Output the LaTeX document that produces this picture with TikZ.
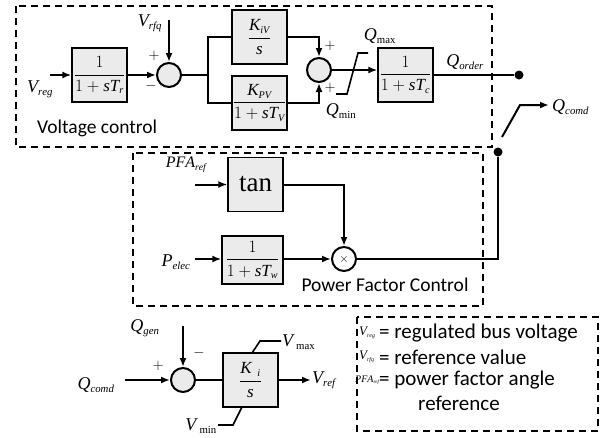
\documentclass[tikz,border=0pt]{standalone}
\usepackage{amsmath}
\usepackage{fontspec}
\setmainfont{Liberation Serif}
\newfontfamily\sansf{Carlito}
\usetikzlibrary{arrows.meta}
\renewcommand\defaultscriptratio{.6}
\renewcommand\defaultscriptscriptratio{.45}
\newcommand\lab[2]{\ensuremath{\mathit{#1}_{\mathit{#2}}}}
\newcommand\labr[2]{\ensuremath{\mathit{#1}_{\mathrm{#2}}}}
\newcommand\labs[2]{\ensuremath{\mathit{#1}_{\scriptscriptstyle\mathit{#2}}}}
\definecolor{boxgray}{RGB}{235,235,235}
\begin{document}
\begin{tikzpicture}[x=1pt,y=-1pt,
  blk/.style={draw, line width=1.3pt, fill=boxgray, minimum width=55pt, minimum height=54pt, inner sep=0pt, font=\fontsize{17}{20}\selectfont},
  sumc/.style={draw, circle, line width=2pt, fill=boxgray, minimum size=24pt, inner sep=0pt},
  sig/.style={line width=2pt},
  arr/.style={line width=2pt, -{Latex[length=9pt,width=7pt]}},
  lim/.style={line width=1.6pt},
  grp/.style={draw, line width=1.5pt, dash pattern=on 7pt off 5pt},
  lbl/.style={font=\fontsize{18}{20}\selectfont, inner sep=0pt},
  lgl/.style={font=\fontsize{13}{14}\selectfont, inner sep=0pt, anchor=west},
  sgn/.style={font=\fontsize{15}{16}\selectfont, inner sep=0pt},
  txt/.style={font=\sansf\fontsize{19.5}{22}\selectfont, inner sep=0pt},
  lgt/.style={font=\sansf\fontsize{21}{24}\selectfont, inner sep=0pt, anchor=west},
  dotn/.style={circle, fill, inner sep=0pt, minimum size=9pt}]
\useasboundingbox (0,0) rectangle (601,437);
\fill[white] (0,0) rectangle (601,437);

% group frames
\draw[grp] (16,6) rectangle (492,147);
\draw[grp] (133,153) rectangle (483,306);
\draw[grp] (357,317) rectangle (598,431);

% ---------- Voltage control ----------
\node[lbl] (vreg) at (40,89) {\lab{V}{reg}};
\coordinate (vregin) at (50,75);
\node[blk] (b1) at (99.5,75) {$\dfrac{1}{1+\mathit{sT}_{\mathit{r}}}$};
\node[sumc] (s1) at (169,75) {};
\node[lbl] (vrfq) at (150,23) {\lab{V}{rfq}};
\coordinate (vrfqin) at (169,20);
\node[sgn] (p1) at (154,56) {$+$};
\node[sgn] (m1) at (151,86) {$-$};
\draw[arr] (vregin) -- (b1.west);
\draw[arr] (b1.east) -- (s1.west);
\draw[arr] (vrfqin) -- (s1.north);

\coordinate (j1) at (208,75);
\node[blk] (bi) at (259.5,37) {$\dfrac{\mathit{K}_{\mathit{iV}}}{\mathit{s}}$};
\node[blk] (bp) at (259.5,103) {$\dfrac{\mathit{K}_{\mathit{PV}}}{1+\mathit{sT}_{\mathit{V}}}$};
\node[sumc] (s2) at (319,70) {};
\draw[sig] (s1.east) -- (j1);
\draw[sig] (bi.west) -- (bi.west -| j1) -- (bp.west -| j1) -- (bp.west);
\draw[arr] (bi.east) -| (s2.north);
\draw[arr] (bp.east) -| (s2.south);
\node[sgn] (p2) at (330,46) {$+$};
\node[sgn] (p3) at (330,88) {$+$};

\node[blk] (bc) at (405.5,75) {$\dfrac{1}{1+\mathit{sT}_{\mathit{c}}}$};
\draw[arr] (s2.east) -- (s2.east -| bc.west);
\draw[lim] (336,94) -- (347,94) -- (358,53) -- (368,53);
\node[lbl] (qmax) at (380,36) {\labr{Q}{max}};
\node[lbl] (qmin) at (341,111) {\labr{Q}{min}};
\node[lbl] (qord) at (465,62) {\lab{Q}{order}};
\node[dotn] (d1) at (519,75) {};
\draw[sig] (bc.east) -- (d1);

\coordinate (sw0) at (502,137);
\coordinate (sw1) at (520,105);
\coordinate (qout) at (549,105);
\draw[arr] (sw0) -- (sw1) -- (qout);
\node[lbl, anchor=west] (qcomd) at (552,107) {\lab{Q}{comd}};
\node[dotn] (d2) at (498,152) {};

\node[txt, anchor=west] (vctext) at (37,128) {Voltage control};

% ---------- Power factor control ----------
\node[lbl, font=\fontsize{16}{18}\selectfont] (pfa) at (186,165) {\lab{PFA}{ref}};
\coordinate (pfain) at (195,184.5);
\node[blk, font=\fontsize{27}{28}\selectfont] (tan) at (255.5,184.5) {tan};
\draw[arr] (pfain) -- (tan.west);
\node[circle, draw, line width=2pt, fill=white, minimum size=24pt, inner sep=0pt, font=\fontsize{13}{14}\selectfont] (mul) at (344,259) {$\times$};
\draw[arr] (tan.east) -| (mul.north);
\node[lbl] (pel) at (176,262) {\lab{P}{elec}};
\coordinate (pelin) at (195,259);
\node[blk, minimum width=61pt, minimum height=48pt] (bw) at (252.5,260) {$\dfrac{1}{1+\mathit{sT}_{\mathit{w}}}$};
\draw[arr] (pelin) -- (pelin -| bw.west);
\draw[arr] (mul.west -| bw.east) -- (mul.west);
\draw[sig] (mul.east) -| (d2);
\node[txt] (pftext) at (385,285) {Power Factor Control};

% ---------- Reactive power loop ----------
\node[sumc] (s3) at (183,380) {};
\node[lbl] (qgen) at (145,328) {\lab{Q}{gen}};
\coordinate (qgenin) at (183,326);
\draw[arr] (qgenin) -- (s3.north);
\node[lbl] (qcomd2) at (96,385) {\lab{Q}{comd}};
\coordinate (qcin) at (125,380);
\draw[arr] (qcin) -- (s3.west);
\node[sgn] (p4) at (158,366) {$+$};
\node[sgn] (m2) at (199,353) {$-$};
\node[blk] (bk) at (250.5,380) {$\dfrac{\mathit{K}_{\;\;\mathit{i}}}{\mathit{s}}$};
\draw[sig] (s3.east) -- (bk.west);
\coordinate (vrefout) at (311,380);
\draw[arr] (bk.east) -- (vrefout);
\node[lbl, anchor=west] (vref) at (312,380) {\lab{V}{ref}};
\coordinate (vmx) at (252,353);
\coordinate (vmn) at (242,407);
\draw[lim] (vmx) -- (260,341) -- (281,341);
\node[lbl, anchor=west] (vmax) at (282,342) {\labr{V}{\;max}};
\draw[lim] (vmn) -- (233,425) -- (218,425);
\node[lbl, anchor=east] (vmin) at (217,426) {\labr{V}{\;min}};

% ---------- Legend ----------
\node[lgl] (l1) at (359,333) {\labs{V}{reg}};
\node[lgt] (t1) at (379,333) {= regulated bus voltage};
\node[lgl] (l2) at (359,357) {\labs{V}{rfq}};
\node[lgt] (t2) at (379,357) {= reference value};
\node[lgl, font=\fontsize{10}{12}\selectfont] (l3) at (355,380) {\labs{PFA}{ref}};
\node[lgt] (t3) at (379,380) {= power factor angle};
\node[lgt] (t4) at (418,403) {reference};
\end{tikzpicture}
\end{document}
